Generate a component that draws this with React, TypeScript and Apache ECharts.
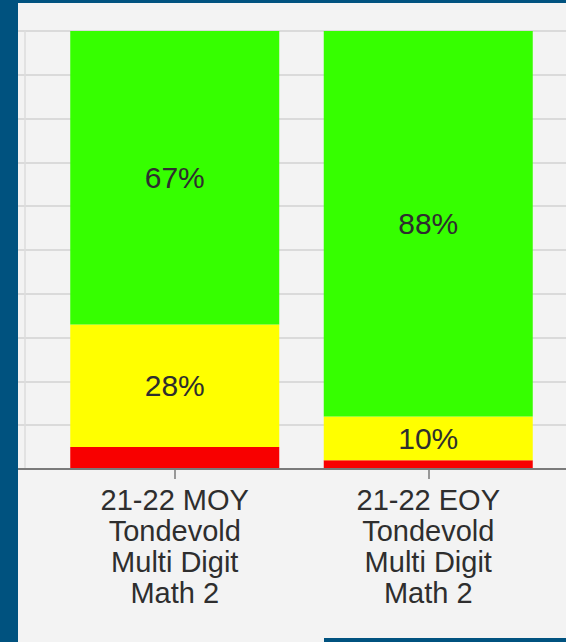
import React, { useEffect, useRef } from "react";
import * as echarts from "echarts";

const categories = [
  "21-22 MOY\nTondevold\nMulti Digit\nMath 2",
  "21-22 EOY\nTondevold\nMulti Digit\nMath 2",
];
const redValues = [5, 2];
const yellowValues = [28, 10];
const greenValues = [67, 88];
const yTicks = { min: 0, max: 100, interval: 10 };

export default function App() {
  const ref = useRef<HTMLDivElement>(null);
  useEffect(() => {
    if (!ref.current) return;
    const chart = echarts.init(ref.current, undefined, { renderer: "svg" });
    const labelStyle = {
      show: true,
      position: "inside" as const,
      formatter: "{c}%",
      fontFamily: "Liberation Sans, Arial, sans-serif",
      fontSize: 30,
      color: "#2e2e2e",
    };
    chart.setOption({
      animation: false,
      backgroundColor: "#f3f3f3",
      grid: [
        { left: 48, right: 11, top: 31, bottom: 173 },
        { left: 18, right: 0, top: 31, bottom: 173 },
      ],
      xAxis: [
        {
          type: "category",
          gridIndex: 0,
          data: categories,
          axisLine: { show: false },
          axisTick: { show: true, alignWithLabel: true, length: 10, lineStyle: { color: "#7a7a7a", width: 1.5 } },
          axisLabel: {
            interval: 0,
            margin: 15,
            fontFamily: "Liberation Sans, Arial, sans-serif",
            fontSize: 29,
            lineHeight: 31,
            color: "#2e2e2e",
          },
          z: 5,
        },
        {
          type: "value",
          gridIndex: 1,
          min: 0,
          max: 1,
          axisLine: { show: true, onZero: false, lineStyle: { color: "#7a7a7a", width: 2 } },
          axisTick: { show: false },
          axisLabel: { show: false },
          splitLine: { show: false },
          z: 6,
        },
      ],
      yAxis: [
        {
          type: "value",
          gridIndex: 0,
          ...yTicks,
          axisLine: { show: false },
          axisTick: { show: false },
          axisLabel: { show: false },
          splitLine: { show: false },
        },
        {
          type: "value",
          gridIndex: 1,
          ...yTicks,
          offset: -7,
          axisLine: { show: true, lineStyle: { color: "#dcdcdc", width: 1.5 } },
          axisTick: { show: false },
          axisLabel: { show: false },
          splitLine: { show: true, lineStyle: { color: "#d2d2d2", width: 1.5 } },
        },
      ],
      series: [
        {
          name: "Red",
          type: "bar",
          stack: "total",
          xAxisIndex: 0,
          yAxisIndex: 0,
          barWidth: 209,
          data: redValues,
          itemStyle: { color: "#f80000" },
          label: { show: false },
          z: 3,
        },
        {
          name: "Yellow",
          type: "bar",
          stack: "total",
          xAxisIndex: 0,
          yAxisIndex: 0,
          barWidth: 209,
          data: yellowValues,
          itemStyle: { color: "#ffff00" },
          label: labelStyle,
          z: 3,
        },
        {
          name: "Green",
          type: "bar",
          stack: "total",
          xAxisIndex: 0,
          yAxisIndex: 0,
          barWidth: 209,
          data: greenValues,
          itemStyle: { color: "#36ff00" },
          label: labelStyle,
          z: 3,
        },
      ],
      graphic: [
        { type: "rect", left: 0, top: 0, shape: { width: 18, height: 642 }, style: { fill: "#00527f" }, z: 100 },
        { type: "rect", left: 0, top: 0, shape: { width: 566, height: 3 }, style: { fill: "#00527f" }, z: 100 },
        { type: "rect", left: 324, top: 638, shape: { width: 242, height: 4 }, style: { fill: "#00527f" }, z: 100 },
      ],
    });
    return () => chart.dispose();
  }, []);
  return (
    <div
      ref={ref}
      style={{ position: "fixed", left: 0, top: 0, width: 566, height: 642 }}
    />
  );
}
